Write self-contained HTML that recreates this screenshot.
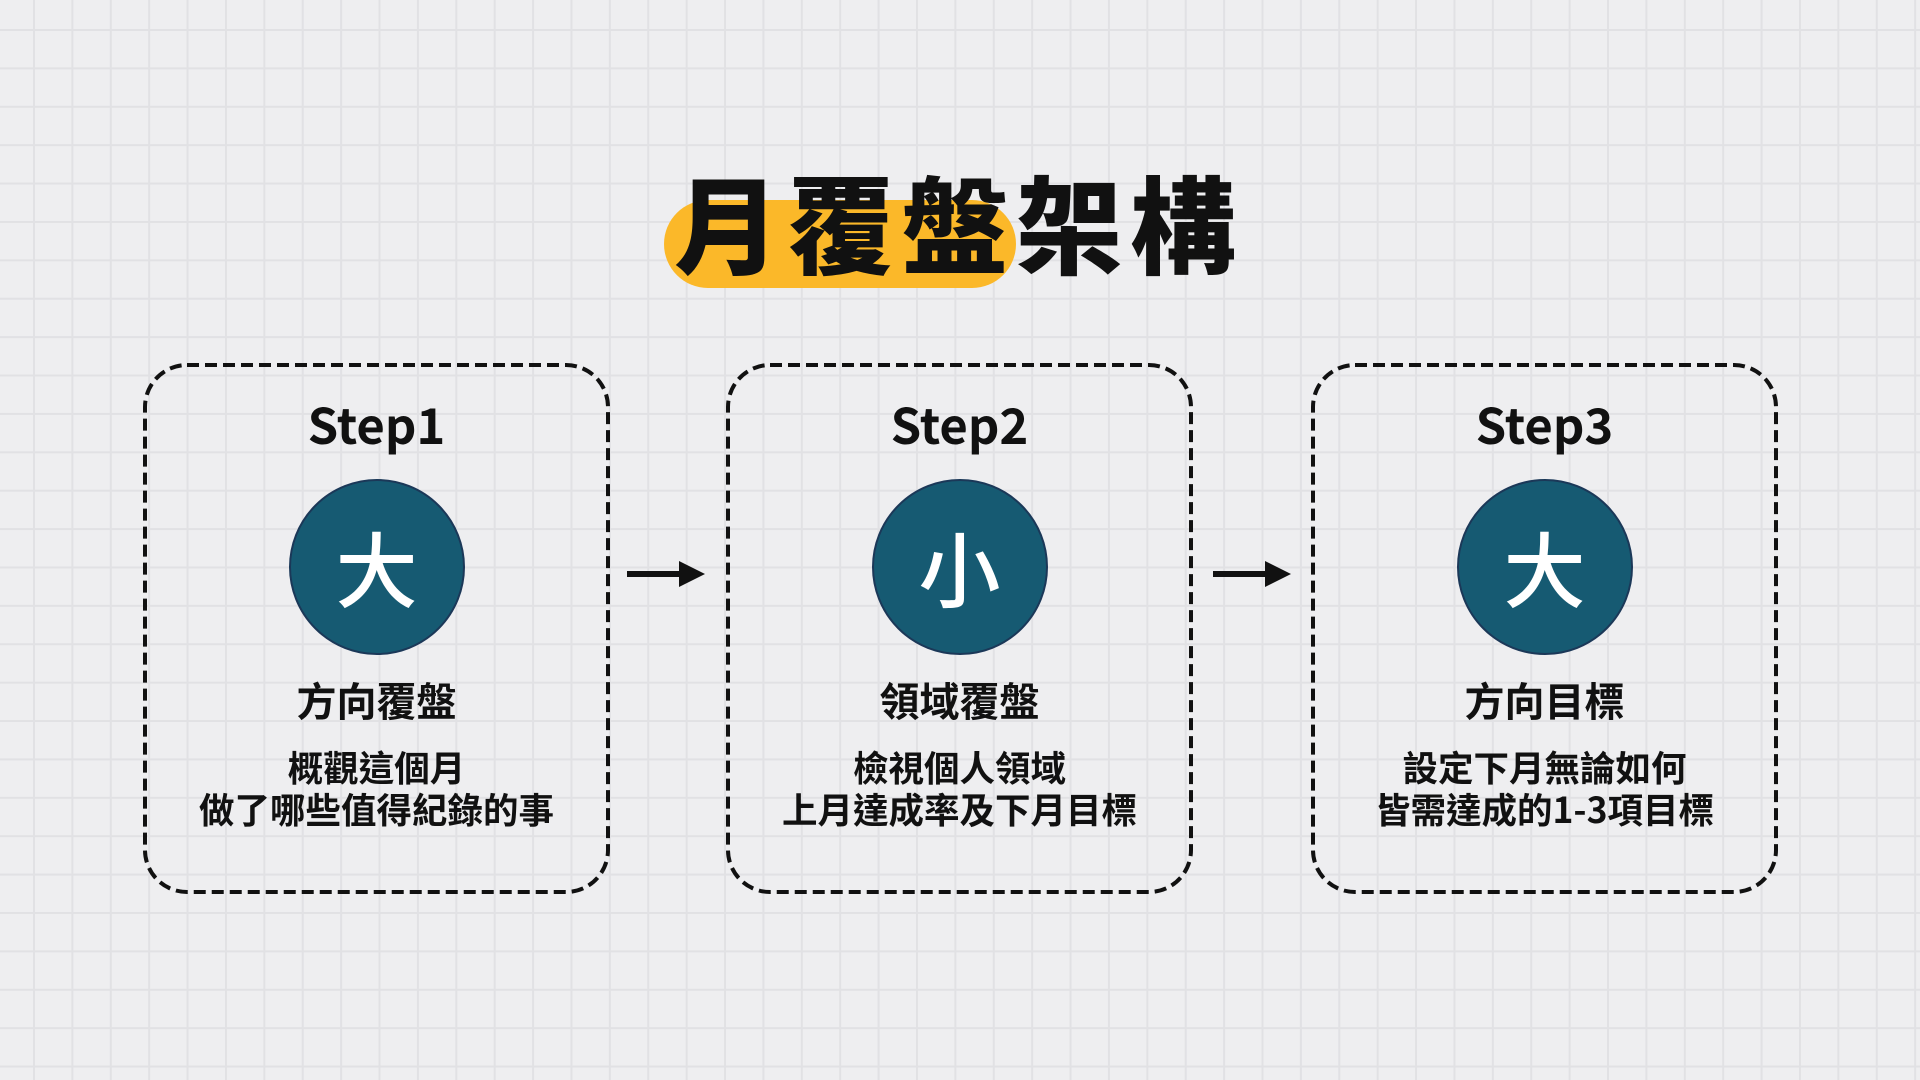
<!DOCTYPE html>
<html><head><meta charset="utf-8"><style>
html,body{margin:0;padding:0}
body{width:1920px;height:1080px;position:relative;overflow:hidden;background-color:#eeeef0;
background-image:linear-gradient(#e1e1e4 2px,transparent 2px),linear-gradient(90deg,#e1e1e4 2px,transparent 2px);
background-size:38.4px 38.4px;background-position:33px 29px;
font-family:"Noto Sans CJK TC","Noto Sans CJK SC",sans-serif;color:#111}
.pill{position:absolute;left:664px;top:200px;width:352px;height:88px;background:#fbb829;border-radius:44px}
.title{position:absolute;left:674px;top:150px;font-size:106px;font-weight:900;letter-spacing:8px;line-height:140px;white-space:nowrap}
.col{position:absolute;top:0;width:467px;height:1080px}
.col svg{position:absolute;left:0;top:363px}
.step{position:absolute;top:394px;width:100%;text-align:center;font-size:49px;font-weight:600;line-height:60px}
.circ{position:absolute;left:50%;top:479px;width:176px;height:176px;margin-left:-88px;border-radius:50%;background:#165a72;border:2px solid #1b3858;box-sizing:border-box;color:#fff;font-size:82px;line-height:170px;text-align:center;font-weight:500}
.lab{position:absolute;top:673px;width:100%;text-align:center;font-size:40px;font-weight:700;line-height:52px}
.desc{position:absolute;top:746px;width:100%;text-align:center;font-size:35.5px;font-weight:600;line-height:42px}
.arrow{position:absolute;top:561px}
</style></head><body>
<div class="pill"></div>
<div class="title">月覆盤架構</div>

<div class="col" style="left:143px">
<svg width="467" height="532"><rect x="2" y="2" width="463" height="527" rx="42" fill="none" stroke="#111" stroke-width="4" stroke-dasharray="12 6"/></svg>
<div class="step">Step1</div><div class="circ">大</div><div class="lab">方向覆盤</div>
<div class="desc">概觀這個月<br>做了哪些值得紀錄的事</div></div>
<div class="col" style="left:726px">
<svg width="467" height="532"><rect x="2" y="2" width="463" height="527" rx="42" fill="none" stroke="#111" stroke-width="4" stroke-dasharray="12 6"/></svg>
<div class="step">Step2</div><div class="circ">小</div><div class="lab">領域覆盤</div>
<div class="desc">檢視個人領域<br>上月達成率及下月目標</div></div>
<div class="col" style="left:1311px">
<svg width="467" height="532"><rect x="2" y="2" width="463" height="527" rx="42" fill="none" stroke="#111" stroke-width="4" stroke-dasharray="12 6"/></svg>
<div class="step">Step3</div><div class="circ">大</div><div class="lab">方向目標</div>
<div class="desc">設定下月無論如何<br>皆需達成的1-3項目標</div></div>

<svg class="arrow" style="left:627px" width="80" height="26"><rect x="0" y="10" width="54" height="6" fill="#111"/><polygon points="52,0 78,13 52,26" fill="#111"/></svg>
<svg class="arrow" style="left:1213px" width="80" height="26"><rect x="0" y="10" width="54" height="6" fill="#111"/><polygon points="52,0 78,13 52,26" fill="#111"/></svg>
</body></html>
